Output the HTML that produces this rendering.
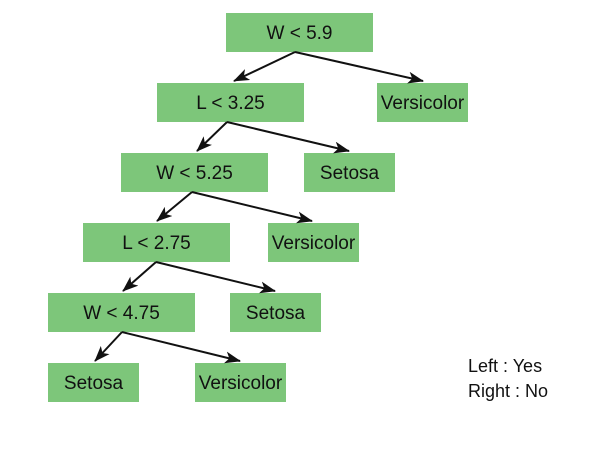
<!DOCTYPE html>
<html><head><meta charset="utf-8"><style>
html,body{margin:0;padding:0;background:#fff;}
svg{display:block;}
text{font-family:"Liberation Sans","DejaVu Sans",sans-serif;font-size:19px;fill:#111;}
</style></head><body>
<svg width="600" height="450" viewBox="0 0 600 450">
<defs><marker id="a" markerWidth="16" markerHeight="12" refX="15" refY="6" orient="auto" markerUnits="userSpaceOnUse">
<path d="M0,0 L16,6 L0,12 L4,6 Z" fill="#111"/></marker></defs>
<g fill="#7dc67a">
<rect x="226" y="13" width="147" height="39"/>
<rect x="157" y="83" width="147" height="39"/>
<rect x="377" y="83" width="91" height="39"/>
<rect x="121" y="153" width="147" height="39"/>
<rect x="304" y="153" width="91" height="39"/>
<rect x="83" y="223" width="147" height="39"/>
<rect x="268" y="223" width="91" height="39"/>
<rect x="48" y="293" width="147" height="39"/>
<rect x="230" y="293" width="91" height="39"/>
<rect x="48" y="363" width="91" height="39"/>
<rect x="195" y="363" width="91" height="39"/>
</g>
<g stroke="#111" stroke-width="2" fill="none" marker-end="url(#a)">
<line x1="295" y1="52" x2="234" y2="81"/>
<line x1="295" y1="52" x2="423" y2="81"/>
<line x1="227" y1="122" x2="197" y2="151"/>
<line x1="227" y1="122" x2="349" y2="151"/>
<line x1="192" y1="192" x2="157" y2="221"/>
<line x1="192" y1="192" x2="312" y2="221"/>
<line x1="156" y1="262" x2="123" y2="291"/>
<line x1="156" y1="262" x2="275" y2="291"/>
<line x1="122" y1="332" x2="95" y2="361"/>
<line x1="122" y1="332" x2="240" y2="361"/>
</g>
<g text-anchor="middle">
<text x="299.5" y="39">W &lt; 5.9</text>
<text x="230.5" y="109">L &lt; 3.25</text>
<text x="422.5" y="109">Versicolor</text>
<text x="194.5" y="179">W &lt; 5.25</text>
<text x="349.5" y="179">Setosa</text>
<text x="156.5" y="249">L &lt; 2.75</text>
<text x="313.5" y="249">Versicolor</text>
<text x="121.5" y="319">W &lt; 4.75</text>
<text x="275.5" y="319">Setosa</text>
<text x="93.5" y="389">Setosa</text>
<text x="240.5" y="389">Versicolor</text>
</g>
<text x="468" y="372" style="font-size:18px">Left : Yes</text>
<text x="468" y="397" style="font-size:18px">Right : No</text>
</svg>
</body></html>
